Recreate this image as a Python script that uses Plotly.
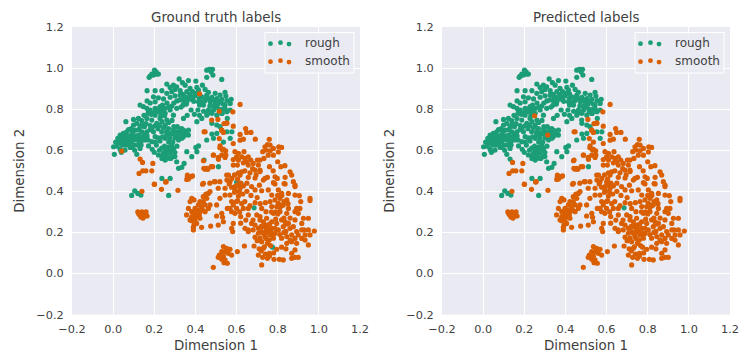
import plotly.graph_objects as go

panel_titles = ["Ground truth labels", "Predicted labels"]
class_names = ["rough", "smooth"]
tick_values = [-0.2, 0.0, 0.2, 0.4, 0.6, 0.8, 1.0, 1.2]

# points labelled rough in both panels
rough_both = [
(.180,.961),(.188,.971),(.201,.990),(.209,.982),(.220,.971),(.196,.966),(.175,.955),(.212,.971),
(.455,.990),(.468,.994),(.483,.994),(.476,.982),(.455,.955),(.485,.966),(.528,.945),
(.261,.922),(.293,.917),(.321,.947),(.337,.929),(.366,.939),(.402,.937),(.309,.909),(.277,.906),
(.301,.896),(.350,.917),(.374,.901),(.407,.906),(.434,.917),(.165,.890),(.204,.890),(.237,.890),
(.285,.885),(.261,.877),(.326,.890),(.358,.885),(.386,.885),(.415,.893),(.447,.896),(.463,.882),
(.496,.877),(.544,.882),(.520,.869),(.548,.864),(.574,.848),(.196,.860),(.220,.855),(.245,.850),
(.277,.858),(.301,.865),(.326,.868),(.350,.860),(.374,.862),(.399,.866),(.431,.860),(.455,.868),
(.480,.858),(.504,.852),(.528,.848),(.553,.842),(.342,.842),(.358,.836),(.366,.850),(.382,.848),
(.390,.860),(.345,.856),(.372,.872),(.405,.878),(.418,.852),(.392,.838),(.356,.825),(.338,.872),
(.025,.640),(.002,.617),(.006,.580),(.023,.658),(.034,.674),(.050,.682),(.066,.690),(.062,.739),
(.026,.637),(.039,.650),(.055,.658),(.071,.666),(.087,.674),(.045,.625),(.062,.637),(.078,.646),
(.034,.604),(.058,.601),(.083,.614),(.104,.625),(.115,.650),(.123,.674),(.099,.653),(.107,.698),
(.099,.723),(.099,.750),(.123,.755),(.139,.744),(.115,.731),(.131,.715),(.152,.715),(.164,.690),
(.139,.690),(.164,.755),(.188,.747),(.204,.771),(.220,.788),(.228,.755),(.253,.780),(.277,.796),
(.293,.771),(.309,.804),(.253,.804),(.228,.812),(.204,.836),(.204,.804),(.180,.796),(.131,.820),
(.147,.812),(.164,.804),(.172,.788),(.212,.731),(.237,.739),(.261,.747),(.253,.723),(.269,.706),
(.293,.698),(.309,.690),(.326,.682),(.342,.698),(.366,.698),(.350,.674),(.334,.658),(.366,.674),
(.277,.682),(.253,.658),(.228,.645),(.204,.666),(.188,.642),(.172,.621),(.155,.650),(.136,.625),
(.115,.580),(.131,.609),(.220,.577),(.237,.560),(.253,.552),(.269,.614),(.277,.585),(.293,.569),
(.309,.544),(.293,.609),(.269,.561),(.245,.585),(.318,.512),(.334,.517),(.345,.536),(.358,.593),
(.382,.569),(.402,.614),(.415,.621),(.407,.593),(.342,.755),(.407,.739),(.431,.755),(.455,.771),
(.379,.796),(.412,.796),(.415,.836),(.439,.820),(.472,.836),(.496,.828),(.520,.836),(.463,.796),
(.488,.796),(.504,.771),(.528,.779),(.553,.788),(.569,.796),(.544,.820),(.569,.828),(.480,.731),
(.504,.723),(.520,.715),(.504,.682),(.480,.679),(.553,.690),(.577,.690),(.569,.658),(.455,.650),
(.488,.658),(.237,.463),(.277,.463),(.512,.520),(.090,.380),(.105,.402),(.120,.390),(.135,.382),
(.270,.380),(.685,.320),(.075,.700),(.088,.706),(.110,.668),(.128,.645),(.147,.668),(.180,.700),
(.196,.690),(.218,.705),(.236,.690),(.300,.660),(.318,.650),(.333,.705),(.312,.715),(.270,.735),
(.286,.745),(.240,.820),(.262,.830),(.180,.830),(.165,.840),(.232,.770),(.270,.640),(.285,.625),
(.300,.590),(.250,.620),(.236,.610),(.020,.620),(.040,.590),(.012,.640),(.090,.640),(.105,.600),
(.150,.770),(.180,.720),(.515,.800),(.500,.810),(.535,.800),(.555,.755),(.470,.815),(.445,.840),
(.030,.660),(.045,.665),(.060,.675),(.075,.655),(.090,.660),(.105,.670),(.120,.660),(.135,.660),
(.150,.680),(.165,.670),(.060,.625),(.075,.625),(.090,.615),(.120,.625),(.135,.640),(.050,.640),
(.095,.690),(.125,.700),(.140,.725),(.160,.730),(.190,.710),(.205,.720),(.225,.720),(.245,.710),
(.260,.690),(.290,.680),(.310,.665),(.325,.665),(.345,.680),(.355,.690),(.340,.665),(.325,.700),
(.295,.715),(.170,.650),(.210,.625),(.225,.600),(.240,.575),(.255,.600),(.265,.585),(.280,.560),
(.270,.590),(.255,.570),(.285,.600),(.300,.570),(.310,.620),(.200,.590),(.190,.605),(.205,.640),
(.220,.660),(.240,.665),(.260,.675),(.275,.660),(.290,.640),(.170,.780),(.185,.775),(.200,.785),
(.215,.800),(.235,.790),(.245,.805),(.270,.810),(.285,.815),(.295,.830),(.310,.840),(.325,.845),
(.340,.820),(.330,.810),(.420,.820),(.430,.835),(.450,.850),(.465,.850),(.485,.845),(.500,.840),
(.535,.825),(.490,.815),(.510,.825),(.530,.780),(.545,.800),(.480,.780),(.460,.780),(.440,.790),
(.420,.770),(.395,.775),(.360,.770),
]

# points labelled smooth in both panels
smooth_both = [
(.617,.823),(.539,.730),(.552,.734),(.584,.717),(.528,.698),(.536,.687),(.644,.706),(.649,.687),
(.617,.677),(.670,.687),(.447,.690),(.516,.657),(.584,.633),(.617,.649),(.633,.654),(.691,.654),
(.759,.653),(.750,.628),(.763,.625),(.738,.617),(.743,.601),(.763,.597),(.779,.609),(.805,.617),
(.819,.614),(.803,.592),(.727,.593),(.754,.576),(.733,.560),(.779,.576),(.800,.544),(.519,.612),
(.532,.601),(.547,.597),(.487,.576),(.528,.576),(.511,.565),(.544,.565),(.592,.593),(.609,.585),
(.625,.568),(.636,.593),(.600,.568),(.584,.555),(.609,.552),(.641,.560),(.657,.568),(.649,.544),
(.669,.552),(.681,.536),(.657,.528),(.633,.539),(.678,.511),(.701,.552),(.714,.552),(.706,.528),
(.714,.503),(.690,.503),(.604,.528),(.584,.528),(.447,.508),(.460,.507),(.484,.520),(.361,.474),
(.378,.471),(.366,.460),(.435,.435),(.492,.447),(.519,.447),(.552,.479),(.609,.490),(.625,.495),
(.617,.479),(.657,.468),(.787,.471),(.798,.463),(.836,.468),(.860,.495),(.868,.479),(.884,.430),
(.831,.438),(.779,.442),(.750,.468),(.730,.455),(.711,.430),(.722,.403),
(.568,.447),(.592,.423),(.604,.431),(.617,.415),(.633,.426),(.592,.407),(.613,.399),(.630,.387),
(.609,.377),(.576,.420),(.544,.415),(.511,.415),(.568,.382),(.544,.382),(.519,.366),(.503,.334),
(.695,.480),(.714,.496),(.673,.423),(.690,.407),(.738,.463),(.754,.407),(.771,.382),(.787,.436),
(.884,.423),(.876,.447),(.836,.436),(.803,.407),(.819,.390),(.852,.390),(.884,.382),(.905,.379),
(.957,.366),(.957,.355),(.912,.350),(.844,.358),(.811,.366),(.787,.358),(.763,.350),(.803,.342),
(.827,.334),(.795,.326),(.771,.326),(.908,.317),(.892,.317),(.884,.301),(.900,.293),(.925,.269),
(.917,.244),(.949,.269),(.852,.317),(.844,.293),(.811,.301),(.722,.317),(.743,.301),(.779,.293),
(.746,.269),(.714,.277),(.698,.285),(.657,.285),(.633,.317),(.657,.317),(.600,.317),(.584,.334),
(.568,.317),(.600,.350),(.576,.350),(.555,.317),(.592,.293),(.576,.301),(.620,.277),(.584,.244),
(.576,.220),(.581,.204),(.536,.252),(.511,.236),(.474,.231),(.503,.280),(.528,.293),(.532,.274),
(.382,.366),(.393,.358),(.374,.350),(.463,.390),(.451,.387),(.471,.399),(.438,.374),(.455,.366),
(.422,.350),(.438,.350),(.414,.334),(.430,.326),(.447,.334),(.398,.317),(.414,.309),(.435,.309),
(.471,.334),(.463,.317),(.366,.317),(.357,.285),(.382,.301),(.398,.293),(.419,.285),(.403,.277),
(.382,.277),(.422,.269),(.398,.261),(.382,.257),(.374,.261),(.406,.244),(.393,.236),(.390,.212),
(.390,.225),(.430,.225),(.422,.301),(.447,.301),
(.641,.220),(.657,.212),(.673,.244),(.690,.236),(.714,.261),(.730,.252),(.706,.220),(.730,.228),
(.746,.236),(.657,.204),(.681,.212),(.706,.196),(.722,.204),(.746,.212),(.771,.220),(.771,.252),
(.795,.244),(.819,.261),(.836,.252),(.852,.244),(.884,.261),(.827,.228),(.803,.212),(.787,.196),
(.763,.188),(.738,.180),(.714,.172),(.759,.163),(.779,.172),(.750,.147),(.722,.155),(.690,.177),
(.638,.134),(.685,.134),(.730,.123),(.706,.090),(.727,.079),(.750,.074),(.759,.098),(.722,.042),
(.782,.069),(.808,.069),(.827,.066),(.868,.074),(.868,.098),(.884,.079),(.900,.079),(.884,.115),
(.795,.118),(.819,.128),(.844,.147),(.868,.155),(.892,.147),(.917,.171),(.949,.139),(.933,.188),
(.957,.188),(.978,.207),(.949,.212),(.917,.212),(.892,.204),(.868,.188),(.844,.180),(.819,.172),
(.900,.188),(.884,.171),(.860,.163),(.933,.163),(.928,.212),(.876,.228),(.787,.220),(.730,.196),
(.743,.171),(.766,.204),
(.487,.030),(.536,.131),(.552,.123),(.568,.118),(.528,.107),(.544,.107),(.560,.098),(.516,.090),
(.536,.085),(.576,.090),(.528,.069),(.544,.066),(.555,.050),(.539,.053),(.511,.079),(.604,.107),
(.120,.300),(.130,.285),(.140,.300),(.145,.270),(.150,.290),(.160,.300),(.165,.280),(.125,.290),
(.135,.275),(.155,.280),(.140,.400),(.200,.435),(.235,.410),(.255,.445),(.315,.405),
(.143,.541),(.193,.536),(.188,.500),(.159,.500),(.144,.500),(.126,.487),(.258,.447),(.201,.434),
(.442,.690),(.439,.549),(.441,.512),(.455,.512),(.476,.520),(.488,.577),(.512,.556),(.520,.621),
(.536,.604),(.548,.577),(.361,.479),(.374,.471),(.358,.458),(.386,.475),(.439,.439),(.496,.447),
(.561,.479),(.577,.463),(.553,.455),(.564,.436),(.509,.750),(.528,.698),(.553,.731),(.582,.787),
(.640,.500),(.665,.490),(.690,.465),(.760,.520),(.778,.500),(.815,.520),(.835,.525),(.590,.480),
(.470,.440),(.650,.400),(.670,.380),(.700,.370),(.740,.345),(.690,.345),(.640,.350),(.625,.340),
(.615,.300),(.645,.260),(.620,.245),(.800,.290),(.830,.270),(.860,.270),(.780,.190),(.810,.190),
(.840,.205),(.700,.160),(.735,.130),(.780,.100),(.840,.120),(.605,.355),(.665,.330),(.715,.340),
(.650,.440),(.620,.440),(.605,.460),(.590,.395),(.770,.300),(.790,.265),(.760,.240),(.680,.260),
(.720,.110),(.740,.095),(.760,.085),(.710,.120),(.820,.330),(.830,.350),(.810,.320),(.850,.340),
(.820,.380),(.800,.380),(.790,.300),(.840,.240),(.860,.220),(.830,.200),(.750,.220),(.770,.190),
(.755,.200),(.740,.200),(.720,.230),(.765,.136),
]

# rough in the ground truth panel, smooth in the predicted panel
rough_then_smooth = [(.600,.445),(.622,.438),(.775,.128),(.442,.552),(.536,.640)]

# smooth in the ground truth panel, rough in the predicted panel
smooth_then_rough = [(.420,.875),(.516,.790),(.042,.596),(.479,.747),(.131,.557)]

# rough in the ground truth panel, smooth in the predicted panel, inside the rough cloud
smooth_predicted_only = [(.250,.768),(.314,.674)]

ROUGH = "#1b9e77"
SMOOTH = "#d95f02"
BG = "#eaeaf2"
INK = "#404040"
FONT = "DejaVu Sans"

truth_rough = rough_both + rough_then_smooth + smooth_predicted_only
truth_smooth = smooth_both + smooth_then_rough
pred_rough = rough_both + smooth_then_rough
pred_smooth = smooth_both + rough_then_smooth + smooth_predicted_only

W, H = 747, 357
PLOT_TOP, PLOT_BOTTOM = 27, 314.6
PANELS = [(72, 360), (442, 730)]

fig = go.Figure()
panel_data = [(truth_rough, truth_smooth), (pred_rough, pred_smooth)]
for i, (rough, smooth) in enumerate(panel_data):
    suffix = "" if i == 0 else "2"
    for pts, color, name in ((rough, ROUGH, class_names[0]), (smooth, SMOOTH, class_names[1])):
        fig.add_trace(go.Scatter(
            x=[p[0] for p in pts], y=[p[1] for p in pts],
            mode="markers", name=name, showlegend=False,
            marker=dict(color=color, size=5.2, line=dict(width=0)),
            xaxis="x" + suffix, yaxis="y" + suffix,
        ))

axis_common = dict(
    range=[-0.2, 1.2], tickmode="array", tickvals=tick_values,
    ticktext=[("\u2212" if v < 0 else "") + f"{abs(v):.1f}" for v in tick_values],
    showgrid=True, gridcolor="white", gridwidth=1, zeroline=False, showline=False,
    ticks="outside", tickcolor="rgba(0,0,0,0)", automargin=False,
    tickfont=dict(family=FONT, size=11.3, color=INK),
)
ydom = [(H - PLOT_BOTTOM) / H, (H - PLOT_TOP) / H]
for i, (a, b) in enumerate(PANELS):
    suffix = "" if i == 0 else "2"
    fig.update_layout({
        "xaxis" + suffix: dict(axis_common, ticklen=4, domain=[a / W, b / W], anchor="y" + suffix),
        "yaxis" + suffix: dict(axis_common, ticklen=5, domain=ydom, anchor="x" + suffix),
    })

shapes, annotations = [], []
def text(x, y, s, size, anchor="center", angle=0):
    annotations.append(dict(
        x=x / W, y=(H - y) / H, xref="paper", yref="paper", text=s, showarrow=False,
        xanchor=anchor, yanchor="middle", textangle=angle,
        font=dict(family=FONT, size=size, color=INK),
    ))

axis_label = ["Dimension 1", "Dimension 2"]
for i, (a, b) in enumerate(PANELS):
    text((a + b) / 2, 17, panel_titles[i], 13.4)
    text((a + b) / 2, 345, axis_label[0], 13.4)
    text(a - 52, (PLOT_TOP + PLOT_BOTTOM) / 2, axis_label[1], 13.4, angle=-90)
    # legend frame
    shapes.append(dict(type="rect", xref="paper", yref="paper",
                       x0=(a + 193) / W, x1=(a + 282) / W,
                       y0=(H - 73) / H, y1=(H - 32.5) / H,
                       fillcolor="rgba(234,234,242,0.8)", line=dict(color="white", width=1),
                       layer="above"))
    for row, (cy, color) in enumerate(((43.5, ROUGH), (61.5, SMOOTH))):
        for dx, dy in ((198.5, 0.2), (208.5, -0.8), (217, 0.6)):
            px, py = a + dx, cy + dy
            shapes.append(dict(type="circle", xref="paper", yref="paper",
                               x0=(px - 2.4) / W, x1=(px + 2.4) / W,
                               y0=(H - py - 2.4) / H, y1=(H - py + 2.4) / H,
                               fillcolor=color, line=dict(width=0), layer="above"))
        text(a + 231, cy - 0.5, class_names[row], 12, anchor="left")

fig.update_layout(
    width=W, height=H, autosize=False,
    margin=dict(l=0, r=0, t=0, b=0),
    paper_bgcolor="white", plot_bgcolor=BG,
    showlegend=False, shapes=shapes, annotations=annotations,
    font=dict(family=FONT, color=INK),
)
fig.write_html("out.html", config={"displayModeBar": False},
               post_script="document.body.style.margin='0';document.body.style.overflow='hidden';")
